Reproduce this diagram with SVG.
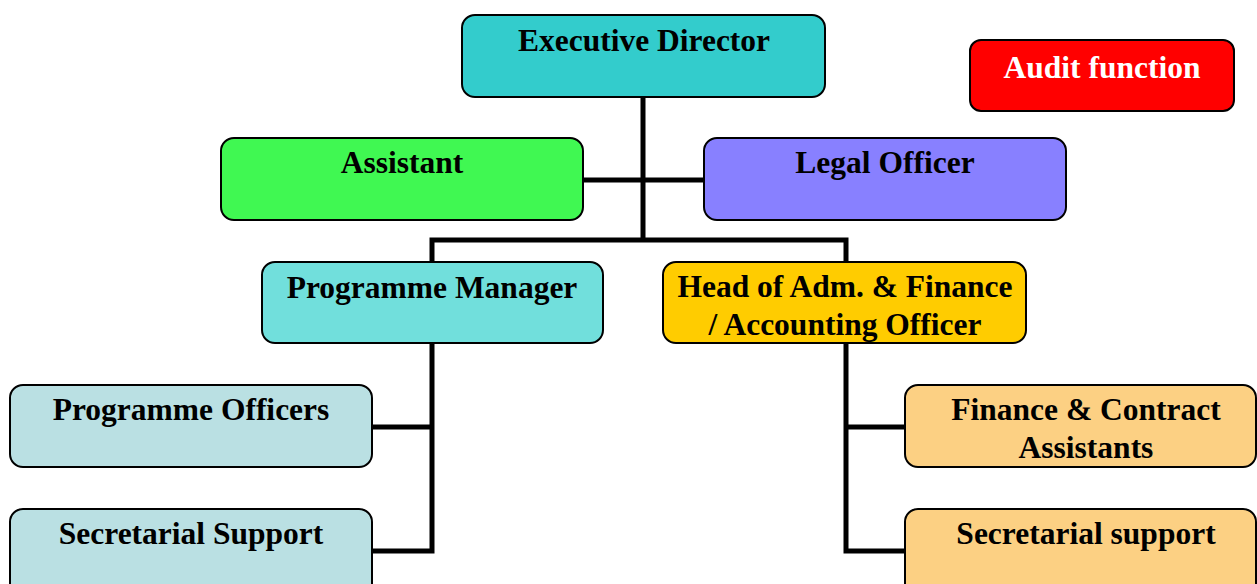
<svg xmlns="http://www.w3.org/2000/svg" width="1257" height="584" viewBox="0 0 1257 584">
<style>
.box{stroke:#000;stroke-width:2}
.t{font-family:"Liberation Serif","Times New Roman",serif;font-weight:bold;font-size:31.5px;text-anchor:middle;fill:#000}
.w{fill:#fff}
.c{stroke:#000;stroke-width:5;fill:none;stroke-linecap:square}
</style>
<rect width="1257" height="584" fill="#fff"/>
<g id="connectors">
<path class="c" d="M643 98V240M584 180H703M432 240H846M432 240V261M846 240V261"/>
<path class="c" d="M432 344V551M373 427H432M373 551H432"/>
<path class="c" d="M846 344V551M846 427H904M846 551H904"/>
</g>
<g id="executive-director">
<rect class="box" x="462" y="15" width="363" height="82" rx="13" fill="#33CCCC"/>
<text class="t" x="644" y="51">Executive Director</text>
</g>
<g id="audit-function">
<rect class="box" x="970" y="40" width="264" height="71" rx="11" fill="#FF0000"/>
<text class="t w" x="1102" y="78">Audit function</text>
</g>
<g id="assistant">
<rect class="box" x="221" y="138" width="362" height="82" rx="13" fill="#40F852"/>
<text class="t" x="402" y="173">Assistant</text>
</g>
<g id="legal-officer">
<rect class="box" x="704" y="138" width="362" height="82" rx="13" fill="#8880FF"/>
<text class="t" x="885" y="173">Legal Officer</text>
</g>
<g id="programme-manager">
<rect class="box" x="262" y="262" width="341" height="81" rx="13" fill="#71DFDC"/>
<text class="t" x="432" y="298">Programme Manager</text>
</g>
<g id="head-adm-finance">
<rect class="box" x="663" y="262" width="363" height="81" rx="13" fill="#FFCC00"/>
<text class="t" x="845" y="297">Head of Adm. &amp; Finance</text>
<text class="t" x="845" y="335">/ Accounting Officer</text>
</g>
<g id="programme-officers">
<rect class="box" x="10" y="385" width="362" height="82" rx="13" fill="#BAE0E3"/>
<text class="t" x="191" y="420">Programme Officers</text>
</g>
<g id="secretarial-support-left">
<rect class="box" x="10" y="509" width="362" height="100" rx="13" fill="#BAE0E3"/>
<text class="t" x="191" y="544">Secretarial Support</text>
</g>
<g id="finance-contract-assistants">
<rect class="box" x="905" y="385" width="351" height="82" rx="13" fill="#FCD083"/>
<text class="t" x="1086" y="420">Finance &amp; Contract</text>
<text class="t" x="1086" y="458">Assistants</text>
</g>
<g id="secretarial-support-right">
<rect class="box" x="905" y="509" width="351" height="100" rx="13" fill="#FCD083"/>
<text class="t" x="1086" y="544">Secretarial support</text>
</g>
</svg>
